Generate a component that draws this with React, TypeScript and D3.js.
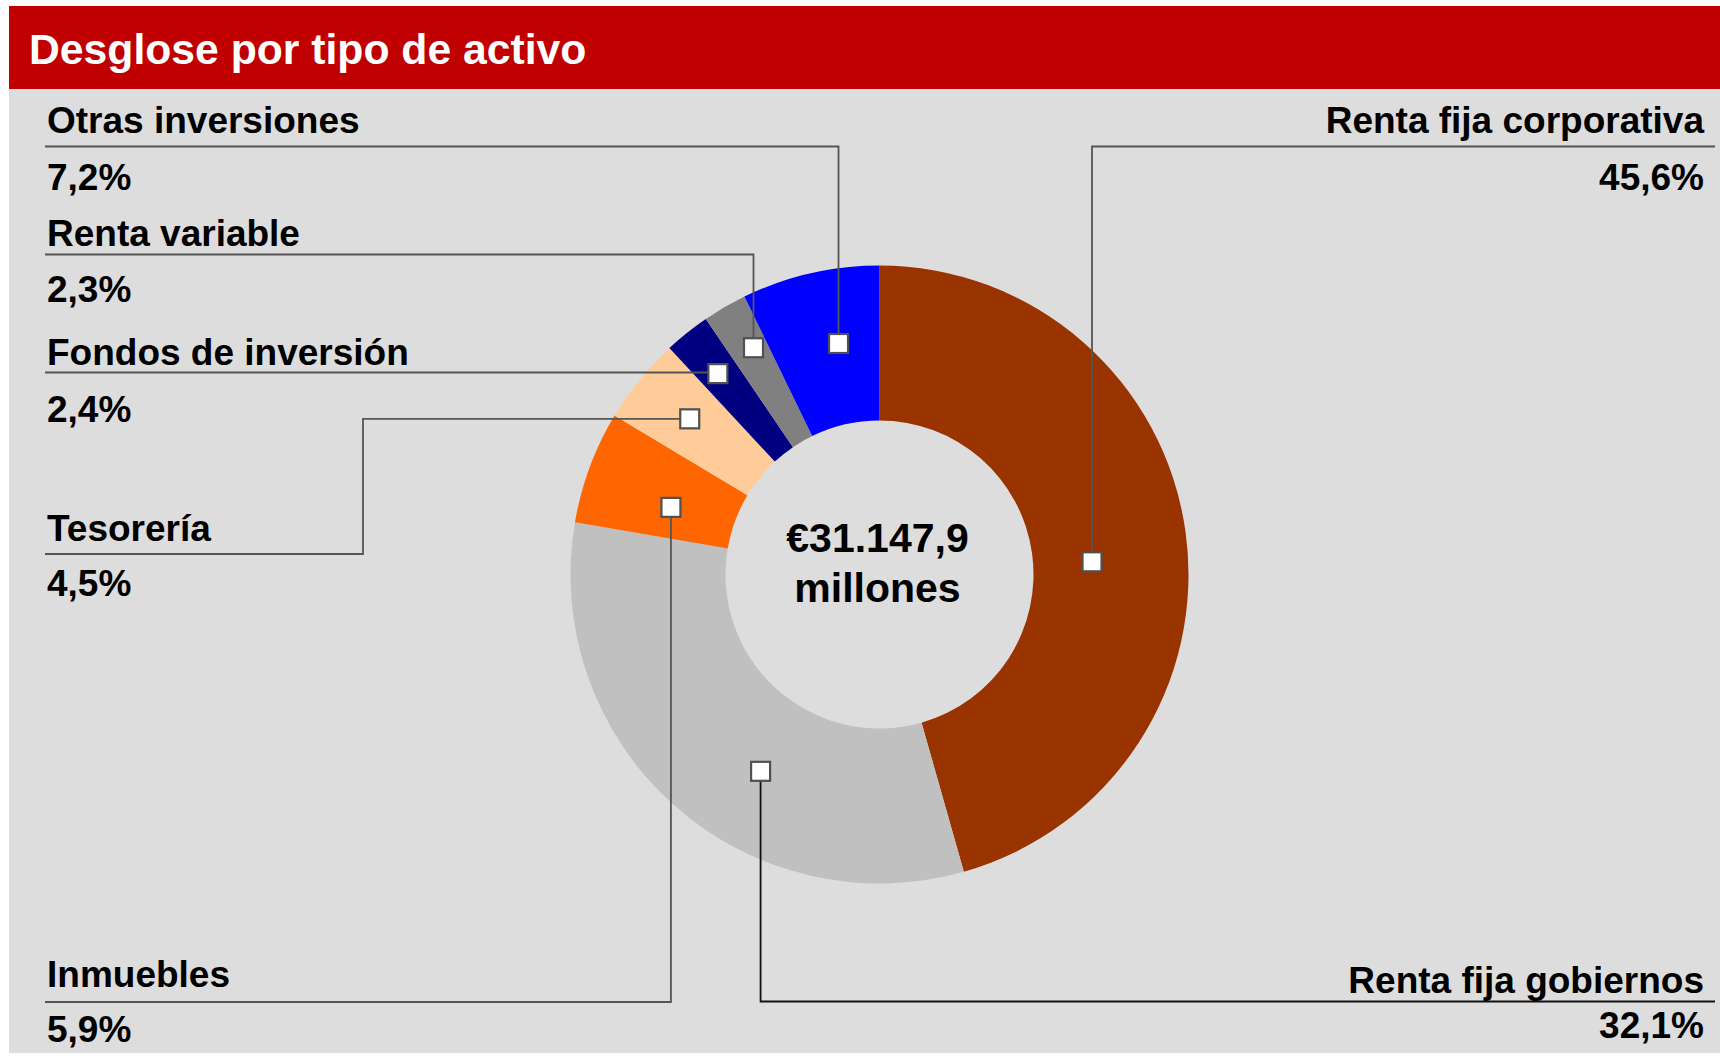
import React from "react";
import * as d3 from "d3";

// ---- Data ----
const title = "Desglose por tipo de activo";
const categories = [
  "Renta fija corporativa",
  "Renta fija gobiernos",
  "Inmuebles",
  "Tesorería",
  "Fondos de inversión",
  "Renta variable",
  "Otras inversiones",
];
const shares = [45.6, 32.1, 5.9, 4.5, 2.4, 2.3, 7.2];
const sliceColors = ["#993300", "#C0C0C0", "#FF6600", "#FFCC99", "#000080", "#808080", "#0000FF"];
const totalLines = ["€31.147,9", "millones"];

// ---- Layout (label slots and leader-line anchoring, Excel-like) ----
type Slot = {
  side: "left" | "right";
  nameY: number;
  lineY: number;
  pctY: number;
  nudgeDeg: number; // shift of the anchor from the slice's mid angle
  radial: number; // anchor position across the ring (0 inner .. 1 outer)
  elbowX?: number; // optional extra elbow on the leader line
  lineColor: string;
};
const slots: Slot[] = [
  { side: "right", nameY: 133, lineY: 146.5, pctY: 190, nudgeDeg: 4.5, radial: 0.38, lineColor: "#555" },
  { side: "right", nameY: 993, lineY: 1001.5, pctY: 1038, nudgeDeg: -10.8, radial: 0.49, lineColor: "#111" },
  { side: "left", nameY: 987, lineY: 1002, pctY: 1042, nudgeDeg: -2.5, radial: 0.42, lineColor: "#555" },
  { side: "left", nameY: 541, lineY: 554, pctY: 596, nudgeDeg: 0.3, radial: 0.59, elbowX: 363, lineColor: "#555" },
  { side: "left", nameY: 365, lineY: 372.5, pctY: 422, nudgeDeg: -0.3, radial: 0.67, lineColor: "#555" },
  { side: "left", nameY: 246, lineY: 254.5, pctY: 302, nudgeDeg: 1.0, radial: 0.68, lineColor: "#555" },
  { side: "left", nameY: 133, lineY: 146.5, pctY: 189.5, nudgeDeg: 2.9, radial: 0.52, lineColor: "#555" },
];

const W = 1720;
const H = 1064;
const FONT = "'Liberation Sans', Arial, Helvetica, sans-serif";

const locale = d3.formatLocale({ decimal: ",", thousands: ".", grouping: [3], currency: ["€", ""] });
const fmtPct = (v: number) => locale.format(".1f")(v) + "%";

export default function App() {
  const cx = 879.5;
  const cy = 574.5;
  const rOuter = 309;
  const rInner = 154;

  const pie = d3
    .pie<number>()
    .sort(null)
    .value((d) => d)
    .startAngle(0)
    .endAngle(2 * Math.PI);
  const arcs = pie(shares);
  const arcGen = d3.arc<d3.PieArcDatum<number>>().innerRadius(rInner).outerRadius(rOuter);

  const leftX = 45;
  const rightX = 1715;
  const textLeft = 47;
  const textRight = 1704;

  const anchors = arcs.map((a, i) => {
    const s = slots[i];
    const mid = (a.startAngle + a.endAngle) / 2 + (s.nudgeDeg * Math.PI) / 180;
    const r = rInner + s.radial * (rOuter - rInner);
    return { x: cx + r * Math.sin(mid), y: cy - r * Math.cos(mid) };
  });

  const sq = 19;

  return (
    <svg
      width={W}
      height={H}
      viewBox={`0 0 ${W} ${H}`}
      style={{ position: "absolute", left: 0, top: 0, background: "#fff" }}
      fontFamily={FONT}
    >
      <rect x={9} y={6} width={W - 9} height={83} fill="#C00000" />
      <rect x={9} y={89} width={W - 9} height={964} fill="#DDDDDD" />
      <text x={29} y={64} fontSize={42.7} fontWeight="bold" fill="#fff">
        {title}
      </text>

      <g transform={`translate(${cx},${cy})`}>
        {arcs.map((a, i) => (
          <path key={categories[i]} d={arcGen(a) || ""} fill={sliceColors[i]} />
        ))}
      </g>

      {/* leader lines */}
      {arcs.map((a, i) => {
        const s = slots[i];
        const p = anchors[i];
        const edge = s.side === "left" ? leftX : rightX;
        const path = d3.path();
        path.moveTo(edge, s.lineY);
        if (s.elbowX !== undefined) {
          path.lineTo(s.elbowX, s.lineY);
          path.lineTo(s.elbowX, p.y);
          path.lineTo(p.x, p.y);
        } else {
          path.lineTo(p.x, s.lineY);
          path.lineTo(p.x, p.y);
        }
        return (
          <path
            key={"l" + i}
            d={path.toString()}
            fill="none"
            stroke={s.lineColor}
            strokeWidth={1.8}
          />
        );
      })}

      {/* anchor squares */}
      {anchors.map((p, i) => (
        <rect
          key={"s" + i}
          x={p.x - sq / 2}
          y={p.y - sq / 2}
          width={sq}
          height={sq}
          fill="#fff"
          stroke="#505050"
          strokeWidth={2.2}
        />
      ))}

      {/* labels */}
      {categories.map((c, i) => {
        const s = slots[i];
        const left = s.side === "left";
        return (
          <g key={"t" + i} fontSize={37} fontWeight="bold" fill="#000">
            <text x={left ? textLeft : textRight} y={s.nameY} textAnchor={left ? "start" : "end"}>
              {c}
            </text>
            <text x={left ? textLeft : textRight} y={s.pctY} textAnchor={left ? "start" : "end"}>
              {fmtPct(shares[i])}
            </text>
          </g>
        );
      })}

      {/* centre total */}
      <text x={cx - 2} y={552} fontSize={41} fontWeight="bold" textAnchor="middle" fill="#000">
        {totalLines[0]}
      </text>
      <text x={cx - 2} y={602} fontSize={41} fontWeight="bold" textAnchor="middle" fill="#000">
        {totalLines[1]}
      </text>
    </svg>
  );
}
